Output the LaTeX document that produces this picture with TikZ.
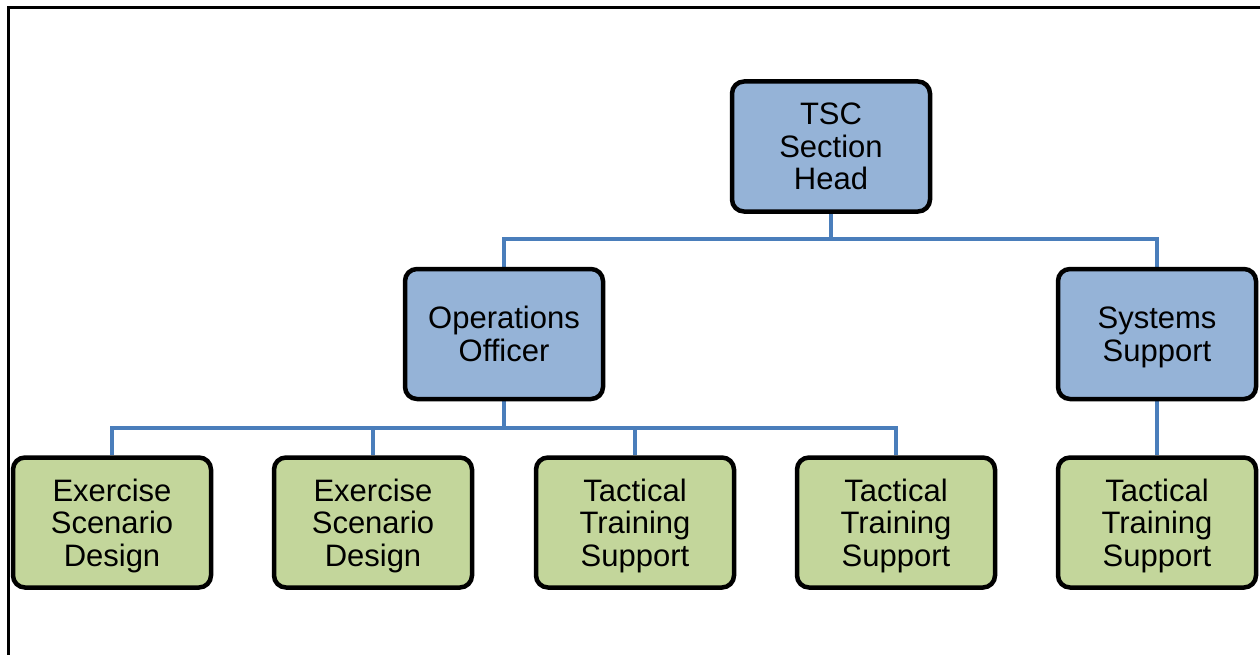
\documentclass[tikz,border=0pt]{standalone}
\usepackage{fontspec}
\setmainfont{Liberation Sans}
\usetikzlibrary{backgrounds}
\definecolor{headblue}{HTML}{95B3D7}
\definecolor{staffgreen}{HTML}{C3D69B}
\definecolor{linkblue}{HTML}{4A7EBB}
% last line without descender depth, so labels sit evenly in their boxes
\newcommand{\nodepth}[1]{\raisebox{0pt}[\height][0pt]{#1}}
\tikzset{
  orgbox/.style={draw=black, line width=4.5pt, rounded corners=12pt,
    minimum width=198pt, minimum height=130pt, inner sep=0pt,
    text width=190pt, align=center,
    font=\fontsize{31}{32.5}\selectfont},
  leadbox/.style={orgbox, fill=headblue},
  unitbox/.style={orgbox, fill=staffgreen},
  link/.style={draw=linkblue, line width=4pt},
  frame/.style={draw=black, line width=3pt}
}
\begin{document}
\begin{tikzpicture}[x=1pt, y=-1pt]
\useasboundingbox (0,0) rectangle (1260,655);
\draw[frame] (8,660) -- (8,8) -- (1265,8);

% chart boxes
\node[leadbox] (tsc) at (831,146.5) {TSC\\Section\\Head};
\node[leadbox] (ops) at (504,334) {Operations\\Officer};
\node[leadbox] (sys) at (1157,334) {Systems\\\nodepth{Support}};

\node[unitbox] (esd1) at (112,522.5) {Exercise\\Scenario\\\nodepth{Design}};
\node[unitbox] (esd2) at (373,522.5) {Exercise\\Scenario\\\nodepth{Design}};
\node[unitbox] (tts1) at (635,522.5) {Tactical\\Training\\\nodepth{Support}};
\node[unitbox] (tts2) at (896,522.5) {Tactical\\Training\\\nodepth{Support}};
\node[unitbox] (tts3) at (1157,522.5) {Tactical\\Training\\\nodepth{Support}};

% branch points of the reporting lines
\coordinate (topbus) at (831,239);
\coordinate (opsbus) at (504,428);

\begin{pgfonlayer}{background}
  \draw[link] (tsc) -- (topbus);
  \draw[link] (topbus) -| (ops);
  \draw[link] (topbus) -| (sys);
  \draw[link] (ops) -- (opsbus);
  \draw[link] (opsbus) -| (esd1);
  \draw[link] (opsbus) -| (esd2);
  \draw[link] (opsbus) -| (tts1);
  \draw[link] (opsbus) -| (tts2);
  \draw[link] (sys) -- (tts3);
\end{pgfonlayer}
\end{tikzpicture}
\end{document}
